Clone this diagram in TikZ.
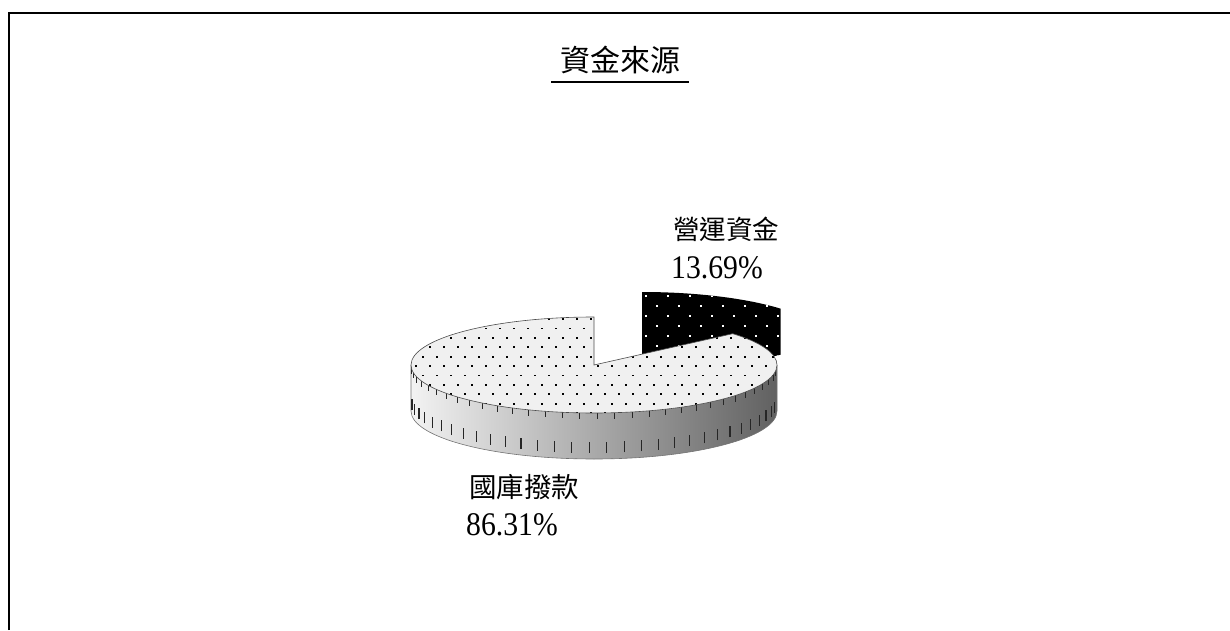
\documentclass[tikz,border=0pt]{standalone}
\usepackage{fontspec}
\newfontfamily\cjk{Noto Sans CJK TC}
\newfontfamily\numfont[FakeStretch=0.9]{Liberation Serif}
\begin{document}
\begin{tikzpicture}[x=1pt,y=1pt,
  rimline/.style={draw=black!70,line width=0.6pt},
  tick/.style={line width=1.1pt,black!85},
  lbl/.style={anchor=base west,inner sep=0pt},
]
\useasboundingbox (0,0) rectangle (1230,630);
% frame
\draw[line width=2.5pt] (9,0) -- (9,617) -- (1230,617);
% title
\node[anchor=base,inner sep=0pt] (title) at (620,558) {\cjk\fontsize{30}{34}\selectfont 資金來源};
\draw[line width=1.5pt] (551,548) -- (689,548);
% ---- small slice (exploded, black)
\coordinate (E) at (642,290);
\path[fill=black] (E) -- (642,338) arc[start angle=90,end angle=40.7,x radius=183,y radius=48] -- (780.7,275.3) -- (642,244) -- cycle;
\begin{scope}
  \clip (E) -- (642,338) arc[start angle=90,end angle=40.7,x radius=183,y radius=48] -- (780.7,275.3) -- (642,244) -- cycle;
  \foreach \i in {0,...,10}{
    \foreach \j in {0,...,7}{
      \fill[white] ({645+22*\j+11*mod(\i,2)},{333-10*\i}) rectangle ++(2,2);
    }
  }
\end{scope}
% ---- big slice side
\coordinate (C) at (594,265);
\shade[left color=black!5,middle color=black!30,right color=black!62]
  (411,265) -- (411,219) arc[start angle=180,end angle=360,x radius=183,y radius=48]
  -- (777,265) arc[start angle=360,end angle=180,x radius=183,y radius=48] -- cycle;
\draw[draw=black!55,line width=0.6pt] (411,265) -- (411,219) arc[start angle=180,end angle=360,x radius=183,y radius=48] -- (777,265);
\foreach \t in {186,191.5,...,356}{
  \draw[tick] ({594+183*cos(\t)},{219+48*sin(\t)+6}) -- ++(0,11);
}
\foreach \t in {183,188.5,...,358}{
  \draw[tick,line width=0.9pt] ({594+183*cos(\t)},{265+48*sin(\t)}) -- ++(0,-6);
}
% ---- big slice top
\path[fill=black!6] (C) -- (594,313) arc[start angle=90,end angle=400.7,x radius=183,y radius=48] -- cycle;
\begin{scope}
  \clip (C) -- (594,313) arc[start angle=90,end angle=400.7,x radius=183,y radius=48] -- cycle;
  \foreach \i in {0,...,11}{
    \foreach \j in {0,...,27}{
      \fill[black] ({408+14*\j+7*mod(\i,2)},{310-9.4*\i}) rectangle ++(1.6,1.9);
    }
  }
\end{scope}
\draw[rimline] (C) -- (594,313) arc[start angle=90,end angle=400.7,x radius=183,y radius=48] -- cycle;
% labels
\node[lbl] (l1) at (673,390) {\cjk\fontsize{26.5}{30}\selectfont 營運資金};
\node[lbl] (v1) at (671,352) {\numfont\fontsize{33}{36}\selectfont 13.69\%};
\node[lbl] (l2) at (469,133) {\cjk\fontsize{27.5}{30}\selectfont 國庫撥款};
\node[lbl] (v2) at (466,95) {\numfont\fontsize{33}{36}\selectfont 86.31\%};
\end{tikzpicture}
\end{document}
